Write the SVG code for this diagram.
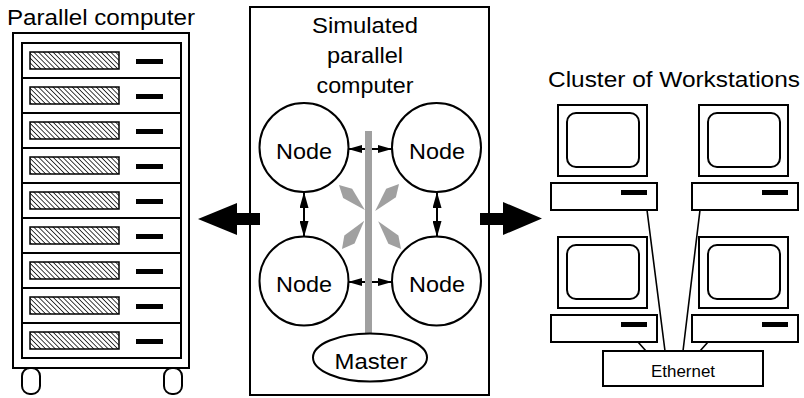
<svg xmlns="http://www.w3.org/2000/svg" xmlns:xlink="http://www.w3.org/1999/xlink" width="804" height="398" viewBox="0 0 804 398">
  <style>
    .ln { fill: none; stroke: #000; stroke-width: 2; }
    .wb { fill: #fff; stroke: #000; stroke-width: 2; }
    .blk { fill: #000; stroke: none; }
    .gray { fill: #a0a0a0; stroke: none; }
    .lbl { font-family: "Liberation Sans", Arial, sans-serif; font-size: 22px; fill: #000; }
    .sm { font-family: "Liberation Sans", Arial, sans-serif; font-size: 17px; fill: #000; }
    .hatch { fill: url(#hatch); stroke: #000; stroke-width: 1.5; }
    .thin { fill: none; stroke: #000; stroke-width: 1.6; }
  </style>
  <defs>
    <pattern id="hatch" patternUnits="userSpaceOnUse" width="3.4" height="3.4" patternTransform="rotate(-45)">
      <rect width="3.4" height="3.4" fill="#fff"/>
      <line x1="0" y1="0" x2="0" y2="3.4" stroke="#000" stroke-width="1.5"/>
    </pattern>
    <marker id="ah" viewBox="0 0 14 8" refX="14" refY="4" markerWidth="14" markerHeight="8" markerUnits="userSpaceOnUse" orient="auto-start-reverse">
      <path d="M0,0 L14,4 L0,8 Z" fill="#000"/>
    </marker>
    <marker id="av" viewBox="0 0 16 9" refX="16" refY="4.5" markerWidth="16" markerHeight="9" markerUnits="userSpaceOnUse" orient="auto-start-reverse">
      <path d="M0,0 L16,4.5 L0,9 Z" fill="#000"/>
    </marker>
    <polygon id="kite" points="0,0 12,-6.5 36,0 12,6.5"/>
    <!-- rack drawer -->
    <g id="drawer">
      <rect class="hatch" x="30" y="9" width="89" height="17"/>
      <rect class="blk" x="136" y="16" width="27" height="5"/>
    </g>
    <!-- workstation: monitor and system unit -->
    <g id="ws">
      <rect class="wb" x="0" y="0" width="89" height="71"/>
      <rect class="ln" x="9" y="8" width="72" height="54" rx="9"/>
      <rect class="wb" x="-7" y="78" width="106" height="27"/>
      <rect class="blk" x="63" y="85" width="26" height="5"/>
    </g>
  </defs>

  <rect width="804" height="398" fill="#fff"/>

  <!-- Parallel computer rack -->
  <g id="rack">
    <text class="lbl" x="7" y="25" textLength="188" lengthAdjust="spacingAndGlyphs">Parallel computer</text>
    <rect class="ln" x="13" y="33" width="176" height="335"/>
    <rect class="ln" x="22" y="43" width="159" height="315"/>
    <path class="ln" d="M22,78H181M22,113H181M22,148H181M22,183H181M22,218H181M22,253H181M22,288H181M22,323H181"/>
    <use xlink:href="#drawer" y="43"/>
    <use xlink:href="#drawer" y="78"/>
    <use xlink:href="#drawer" y="113"/>
    <use xlink:href="#drawer" y="148"/>
    <use xlink:href="#drawer" y="183"/>
    <use xlink:href="#drawer" y="218"/>
    <use xlink:href="#drawer" y="253"/>
    <use xlink:href="#drawer" y="288"/>
    <use xlink:href="#drawer" y="323"/>
    <rect class="ln" x="22" y="368" width="18" height="26" rx="8"/>
    <rect class="ln" x="164" y="368" width="18" height="26" rx="8"/>
  </g>

  <!-- Simulated parallel computer frame -->
  <g id="sim">
    <rect class="ln" x="250" y="7" width="239" height="388"/>
    <text class="lbl" x="365" y="33" text-anchor="middle" textLength="106" lengthAdjust="spacingAndGlyphs">Simulated</text>
    <text class="lbl" x="365" y="63" text-anchor="middle" textLength="76" lengthAdjust="spacingAndGlyphs">parallel</text>
    <text class="lbl" x="365" y="93" text-anchor="middle" textLength="97" lengthAdjust="spacingAndGlyphs">computer</text>
  </g>

  <!-- Connectors -->
  <g id="connectors">
    <line class="ln" x1="348" y1="149" x2="392" y2="149" marker-start="url(#ah)" marker-end="url(#ah)"/>
    <line class="ln" x1="348" y1="282" x2="392" y2="282" marker-start="url(#ah)" marker-end="url(#ah)"/>
    <line class="ln" x1="304" y1="192" x2="304" y2="237" marker-start="url(#av)" marker-end="url(#av)"/>
    <line class="ln" x1="437" y1="192" x2="437" y2="237" marker-start="url(#av)" marker-end="url(#av)"/>
    <rect class="gray" x="365" y="131" width="7" height="203"/>
    <use class="gray" xlink:href="#kite" transform="translate(339,185) rotate(44)"/>
    <use class="gray" xlink:href="#kite" transform="translate(399,184) rotate(131.5)"/>
    <use class="gray" xlink:href="#kite" transform="translate(342,249) rotate(-51.8)"/>
    <use class="gray" xlink:href="#kite" transform="translate(401,249) rotate(-129.4)"/>
    <polygon class="blk" points="198,219 237,203 237,213 260,213 260,225 237,225 237,235"/>
    <polygon class="blk" points="480,213 503,213 503,202 542,218.5 503,235 503,225 480,225"/>
    <path class="thin" d="M647,210L665,351M700,210L683,351M638,342L646,351M708,342L700,351"/>
  </g>

  <!-- Nodes -->
  <g id="node-tl">
    <circle class="wb" cx="304" cy="147.5" r="44.5"/>
    <text class="lbl" x="304" y="159" text-anchor="middle" textLength="56" lengthAdjust="spacingAndGlyphs">Node</text>
  </g>
  <g id="node-tr">
    <circle class="wb" cx="436.5" cy="147.5" r="44.5"/>
    <text class="lbl" x="437" y="159" text-anchor="middle" textLength="56" lengthAdjust="spacingAndGlyphs">Node</text>
  </g>
  <g id="node-bl">
    <circle class="wb" cx="304" cy="281" r="44.5"/>
    <text class="lbl" x="304" y="292" text-anchor="middle" textLength="56" lengthAdjust="spacingAndGlyphs">Node</text>
  </g>
  <g id="node-br">
    <circle class="wb" cx="436.5" cy="281" r="44.5"/>
    <text class="lbl" x="437" y="292" text-anchor="middle" textLength="56" lengthAdjust="spacingAndGlyphs">Node</text>
  </g>
  <g id="master">
    <ellipse class="wb" cx="370" cy="357.5" rx="57" ry="24"/>
    <text class="lbl" x="371" y="369" text-anchor="middle" textLength="73" lengthAdjust="spacingAndGlyphs">Master</text>
  </g>

  <!-- Cluster of workstations -->
  <g id="cluster">
    <text class="lbl" x="548" y="87" textLength="252" lengthAdjust="spacingAndGlyphs">Cluster of Workstations</text>
  </g>
  <g id="ws-1"><use xlink:href="#ws" x="558" y="105"/></g>
  <g id="ws-2"><use xlink:href="#ws" x="699" y="105"/></g>
  <g id="ws-3"><use xlink:href="#ws" x="558" y="237"/></g>
  <g id="ws-4"><use xlink:href="#ws" x="699" y="237"/></g>
  <g id="ethernet">
    <rect class="wb" x="603" y="351" width="160" height="35"/>
    <text class="sm" x="683" y="377" text-anchor="middle" textLength="64" lengthAdjust="spacingAndGlyphs">Ethernet</text>
  </g>
</svg>
